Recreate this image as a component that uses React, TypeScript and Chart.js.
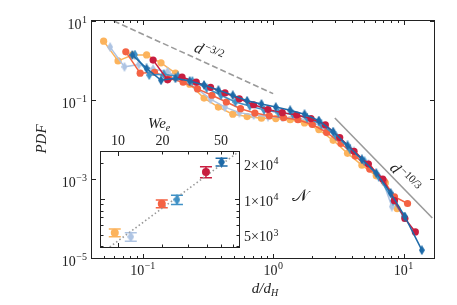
import { useEffect, useRef } from "react";
import { Chart, registerables } from "chart.js";
Chart.register(...registerables);

const SERIF = "'Liberation Serif','DejaVu Serif',serif";

// ---- main plot: PDF of d/d_H for six We_e cases ----
const orangeX = [0.0501, 0.0646, 0.0832, 0.107, 0.138, 0.178, 0.229, 0.295, 0.38, 0.49, 0.631, 0.813, 1.047, 1.349, 1.738, 2.239, 2.884, 3.715, 4.786, 6.166, 7.244, 8.913];
const orangeY = [3.09, 0.977, 1.38, 1.38, 0.871, 0.479, 0.251, 0.112, 0.0661, 0.0437, 0.038, 0.0347, 0.0339, 0.0316, 0.0263, 0.0178, 0.00955, 0.00447, 0.00224, 0.0012, 0.000794, 0.000178];

const lightBlueX = [0.0562, 0.0724, 0.0933, 0.12, 0.155, 0.2, 0.257, 0.331, 0.427, 0.55, 0.708, 0.912, 1.175, 1.514, 1.95, 2.512, 3.236, 4.169, 5.37, 6.918, 8.128];
const lightBlueY = [2.188, 0.692, 0.794, 0.603, 0.525, 0.316, 0.2, 0.105, 0.0661, 0.0479, 0.0417, 0.038, 0.0363, 0.0363, 0.0282, 0.0191, 0.01, 0.00501, 0.0024, 0.000891, 0.0002];

const redOrangeX = [0.0741, 0.0955, 0.123, 0.158, 0.204, 0.263, 0.339, 0.437, 0.562, 0.724, 0.933, 1.202, 1.549, 1.995, 2.57, 3.311, 4.266, 5.495, 7.079, 8.511, 10.72];
const redOrangeY = [1.66, 0.479, 0.501, 0.355, 0.282, 0.191, 0.132, 0.0891, 0.0603, 0.0468, 0.0398, 0.0355, 0.0316, 0.024, 0.0151, 0.00794, 0.0038, 0.00178, 0.000891, 0.000355, 0.00024];

const midBlueX = [0.0871, 0.112, 0.145, 0.186, 0.24, 0.309, 0.398, 0.513, 0.661, 0.851, 1.096, 1.413, 1.82, 2.344, 3.02, 3.89, 5.012, 6.457, 8.318, 10.0];
const midBlueY = [1.413, 0.427, 0.447, 0.398, 0.302, 0.2, 0.132, 0.0891, 0.0708, 0.0562, 0.0479, 0.0437, 0.0355, 0.024, 0.0126, 0.00562, 0.00282, 0.00112, 0.000282, 0.000112];

const crimsonX = [0.12, 0.155, 0.2, 0.257, 0.331, 0.427, 0.55, 0.708, 0.912, 1.175, 1.514, 1.95, 2.512, 3.236, 4.169, 5.37, 6.918, 8.511, 10.23, 12.3];
const crimsonY = [1.023, 0.324, 0.38, 0.282, 0.209, 0.151, 0.107, 0.0759, 0.0575, 0.0479, 0.0417, 0.0339, 0.0234, 0.0112, 0.00501, 0.0024, 0.001, 0.000282, 0.0001, 0.0000457];

const darkBlueX = [0.0832, 0.107, 0.138, 0.178, 0.229, 0.295, 0.38, 0.49, 0.631, 0.813, 1.047, 1.349, 1.738, 2.239, 2.884, 3.715, 4.786, 6.166, 7.943, 10.23, 13.8];
const darkBlueY = [1.38, 0.631, 0.316, 0.355, 0.302, 0.24, 0.178, 0.132, 0.0955, 0.0794, 0.0661, 0.055, 0.0437, 0.0302, 0.0158, 0.00708, 0.00316, 0.00141, 0.000447, 0.000112, 0.0000158];

// reference power laws
const slope32X = [0.06, 1.0];
const slope32Y = [10, 0.145];
const slope103X = [2.97, 16.6];
const slope103Y = [0.035, 0.000103];

// axis ticks
const xMajorTicks = [0.1, 1, 10];
const xMajorExp = ["\u22121", "0", "1"];
const xMinorTicks = [0.05, 0.06, 0.07, 0.08, 0.09, 0.2, 0.3, 0.4, 0.5, 0.6, 0.7, 0.8, 0.9, 2, 3, 4, 5, 6, 7, 8, 9];
const yMajorTicks = [10, 0.1, 0.001, 0.00001];
const yMajorExp = ["1", "\u22121", "\u22123", "\u22125"];

// ---- inset: number of drops vs We_e ----
const weE = [9.5, 12.2, 19.8, 25.1, 39.5, 50.4];
const nDrops = [5200, 4810, 9130, 9870, 16900, 20500];
const nErr = [380, 390, 690, 880, 1790, 1560];
const fitWe = [8.78, 64.1];
const fitN = [3945, 24400];
const insetXTicks = [10, 20, 30, 40, 50, 60];
const insetXLabels = [10, 20, 50];
const insetYTicks = [4000, 5000, 6000, 7000, 8000, 9000, 10000, 20000];
const insetYLabelVals = [20000, 10000, 5000];
const insetYLabelBase = ["2\u00d710", "1\u00d710", "5\u00d710"];
const insetYLabelExp = ["4", "4", "3"];

const seriesColors = ["#FCB35C", "#AEC4E3", "#F46243", "#3F91C6", "#C81D3F", "#1D6AA8"];
const seriesMarkers = ["circle", "diamond", "circle", "diamond", "circle", "diamond"];
const seriesX = [orangeX, lightBlueX, redOrangeX, midBlueX, crimsonX, darkBlueX];
const seriesY = [orangeY, lightBlueY, redOrangeY, midBlueY, crimsonY, darkBlueY];

function thinDiamond(color: string, w: number, h: number) {
  const c = document.createElement("canvas");
  c.width = w;
  c.height = h;
  const g = c.getContext("2d")!;
  g.fillStyle = color;
  g.beginPath();
  g.moveTo(w / 2, 0);
  g.lineTo(w, h / 2);
  g.lineTo(w / 2, h);
  g.lineTo(0, h / 2);
  g.closePath();
  g.fill();
  return c;
}

function drawPow(ctx: CanvasRenderingContext2D, base: string, exp: string, x: number, yMid: number, align: string, bs = 14, es = 10) {
  ctx.font = `${bs}px ${SERIF}`;
  const wb = ctx.measureText(base).width;
  ctx.font = `${es}px ${SERIF}`;
  const we = ctx.measureText(exp).width;
  const total = wb + we + 0.5;
  const x0 = align === "center" ? x - total / 2 : align === "right" ? x - total : x;
  ctx.textAlign = "left";
  ctx.textBaseline = "alphabetic";
  const bl = yMid + bs * 0.33;
  ctx.font = `${bs}px ${SERIF}`;
  ctx.fillText(base, x0, bl);
  ctx.font = `${es}px ${SERIF}`;
  ctx.fillText(exp, x0 + wb + 0.5, bl - bs * 0.42);
}

function drawSlopeLabel(ctx: CanvasRenderingContext2D, x: number, y: number, angle: number, exp: string) {
  ctx.save();
  ctx.translate(x, y);
  ctx.rotate(angle);
  ctx.font = `italic 16px ${SERIF}`;
  const wb = ctx.measureText("d").width;
  ctx.font = `11px ${SERIF}`;
  const we = ctx.measureText(exp).width;
  const total = wb + we + 1;
  ctx.fillStyle = "#222";
  ctx.textAlign = "left";
  ctx.textBaseline = "alphabetic";
  ctx.font = `italic 16px ${SERIF}`;
  ctx.fillText("d", -total / 2, 5);
  ctx.font = `11px ${SERIF}`;
  ctx.fillText(exp, -total / 2 + wb + 1, -1);
  ctx.restore();
}

const mainAxes = {
  id: "mainAxes",
  afterDraw(chart: any) {
    const { ctx, chartArea: a, scales } = chart;
    const xs = scales.x;
    const ys = scales.y;
    ctx.save();
    ctx.strokeStyle = "#222";
    ctx.fillStyle = "#222";
    ctx.lineWidth = 1;
    ctx.strokeRect(a.left - 0.5, a.top - 0.5, a.right - a.left + 1, a.bottom - a.top + 1);
    ctx.beginPath();
    xMajorTicks.forEach((v) => {
      const p = Math.round(xs.getPixelForValue(v)) + 0.5;
      ctx.moveTo(p, a.bottom);
      ctx.lineTo(p, a.bottom - 4);
      ctx.moveTo(p, a.top);
      ctx.lineTo(p, a.top + 4);
    });
    xMinorTicks.forEach((v) => {
      const p = Math.round(xs.getPixelForValue(v)) + 0.5;
      ctx.moveTo(p, a.bottom);
      ctx.lineTo(p, a.bottom - 2);
      ctx.moveTo(p, a.top);
      ctx.lineTo(p, a.top + 2);
    });
    yMajorTicks.forEach((v) => {
      const p = Math.round(ys.getPixelForValue(v)) + 0.5;
      ctx.moveTo(a.left, p);
      ctx.lineTo(a.left + 4, p);
      ctx.moveTo(a.right, p);
      ctx.lineTo(a.right - 4, p);
    });
    ctx.stroke();
    xMajorTicks.forEach((v, i) => {
      drawPow(ctx, "10", xMajorExp[i], xs.getPixelForValue(v), a.bottom + 12, "center");
    });
    yMajorTicks.forEach((v, i) => {
      drawPow(ctx, "10", yMajorExp[i], a.left - 5, ys.getPixelForValue(v) + 3, "right");
    });
    // axis titles
    ctx.save();
    ctx.translate(42, 139);
    ctx.rotate(-Math.PI / 2);
    ctx.font = `italic 15px ${SERIF}`;
    ctx.textAlign = "center";
    ctx.textBaseline = "middle";
    ctx.fillText("PDF", 0, 0);
    ctx.restore();
    ctx.font = `italic 15px ${SERIF}`;
    const w1 = ctx.measureText("d/d").width;
    ctx.font = `italic 10px ${SERIF}`;
    const w2 = ctx.measureText("H").width;
    const tx = (a.left + a.right) / 2 + 2 - (w1 + w2) / 2;
    ctx.textAlign = "left";
    ctx.textBaseline = "alphabetic";
    ctx.font = `italic 15px ${SERIF}`;
    ctx.fillText("d/d", tx, a.bottom + 35);
    ctx.font = `italic 10px ${SERIF}`;
    ctx.fillText("H", tx + w1, a.bottom + 38);
    // slope labels
    const a1 = Math.atan2(
      ys.getPixelForValue(slope32Y[1]) - ys.getPixelForValue(slope32Y[0]),
      xs.getPixelForValue(slope32X[1]) - xs.getPixelForValue(slope32X[0])
    );
    drawSlopeLabel(ctx, xs.getPixelForValue(0.32), ys.getPixelForValue(1.6), a1, "\u22123/2");
    const a2 = Math.atan2(
      ys.getPixelForValue(slope103Y[1]) - ys.getPixelForValue(slope103Y[0]),
      xs.getPixelForValue(slope103X[1]) - xs.getPixelForValue(slope103X[0])
    );
    drawSlopeLabel(ctx, xs.getPixelForValue(10.2), ys.getPixelForValue(0.00108), a2, "\u221210/3");
    ctx.restore();
  },
};

const insetAxes = {
  id: "insetAxes",
  beforeDraw(chart: any) {
    const { ctx, chartArea: a } = chart;
    ctx.save();
    ctx.fillStyle = "#fff";
    ctx.fillRect(a.left, a.top, a.right - a.left, a.bottom - a.top);
    ctx.restore();
  },
  beforeDatasetsDraw(chart: any) {
    const { ctx, scales } = chart;
    const xs = scales.x;
    const ys = scales.y;
    ctx.save();
    ctx.lineWidth = 1.5;
    weE.forEach((w, i) => {
      const px = xs.getPixelForValue(w);
      const pt = ys.getPixelForValue(nDrops[i] + nErr[i]);
      const pb = ys.getPixelForValue(nDrops[i] - nErr[i]);
      ctx.strokeStyle = seriesColors[i];
      ctx.beginPath();
      ctx.moveTo(px, pt);
      ctx.lineTo(px, pb);
      ctx.moveTo(px - 6, pt);
      ctx.lineTo(px + 6, pt);
      ctx.moveTo(px - 6, pb);
      ctx.lineTo(px + 6, pb);
      ctx.stroke();
    });
    ctx.restore();
  },
  afterDraw(chart: any) {
    const { ctx, chartArea: a, scales } = chart;
    const xs = scales.x;
    const ys = scales.y;
    ctx.save();
    ctx.strokeStyle = "#222";
    ctx.fillStyle = "#222";
    ctx.lineWidth = 1;
    ctx.strokeRect(a.left - 0.5, a.top - 0.5, a.right - a.left + 1, a.bottom - a.top + 1);
    ctx.beginPath();
    insetXTicks.forEach((v) => {
      const p = Math.round(xs.getPixelForValue(v)) + 0.5;
      const len = v === 10 ? 4 : 2.5;
      ctx.moveTo(p, a.bottom);
      ctx.lineTo(p, a.bottom - len);
      ctx.moveTo(p, a.top);
      ctx.lineTo(p, a.top + len);
    });
    insetYTicks.forEach((v) => {
      const p = Math.round(ys.getPixelForValue(v)) + 0.5;
      const len = v === 10000 ? 4 : 2.5;
      ctx.moveTo(a.left, p);
      ctx.lineTo(a.left + len, p);
      ctx.moveTo(a.right, p);
      ctx.lineTo(a.right - len, p);
    });
    ctx.stroke();
    ctx.font = `14px ${SERIF}`;
    ctx.textAlign = "center";
    ctx.textBaseline = "alphabetic";
    insetXLabels.forEach((v) => {
      ctx.fillText(String(v), xs.getPixelForValue(v), a.top - 7);
    });
    insetYLabelVals.forEach((v, i) => {
      drawPow(ctx, insetYLabelBase[i], insetYLabelExp[i], a.right + 5, ys.getPixelForValue(v) + 2, "left");
    });
    // We_e title
    ctx.font = `italic 15px ${SERIF}`;
    const w1 = ctx.measureText("We").width;
    ctx.font = `italic 10px ${SERIF}`;
    const w2 = ctx.measureText("e").width;
    const cx = xs.getPixelForValue(19) - (w1 + w2) / 2;
    ctx.textAlign = "left";
    ctx.font = `italic 15px ${SERIF}`;
    ctx.fillText("We", cx, a.top - 24);
    ctx.font = `italic 10px ${SERIF}`;
    ctx.fillText("e", cx + w1, a.top - 21);
    // N label (calligraphic)
    ctx.font = `17px 'DejaVu Sans', 'Noto Sans', ${SERIF}`;
    ctx.textAlign = "center";
    ctx.textBaseline = "middle";
    ctx.fillText("\u{1D4A9}", a.right + 61, ys.getPixelForValue(10000) - 2);
    ctx.restore();
  },
};

export default function App() {
  const mainRef = useRef<HTMLCanvasElement>(null);
  const insetRef = useRef<HTMLCanvasElement>(null);

  useEffect(() => {
    const datasets: any[] = seriesX.map((xs, i) => {
      const color = seriesColors[i];
      return {
        data: xs.map((x, j) => ({ x, y: seriesY[i][j] })),
        borderColor: color,
        backgroundColor: color,
        borderWidth: 1.5,
        pointStyle: seriesMarkers[i] === "circle" ? "circle" : thinDiamond(color, 6, 10),
        pointRadius: 3.6,
        pointBackgroundColor: color,
        pointBorderWidth: 0,
        tension: 0,
        order: 10 - i,
      };
    });
    datasets.push({
      data: slope32X.map((x, j) => ({ x, y: slope32Y[j] })),
      borderColor: "#9a9a9a",
      borderDash: [6, 3],
      borderWidth: 1.6,
      pointRadius: 0,
      order: 20,
    });
    datasets.push({
      data: slope103X.map((x, j) => ({ x, y: slope103Y[j] })),
      borderColor: "#9a9a9a",
      borderWidth: 1.6,
      pointRadius: 0,
      order: 20,
    });

    const main = new Chart(mainRef.current!, {
      type: "line",
      data: { datasets },
      options: {
        animation: false,
        responsive: true,
        maintainAspectRatio: false,
        layout: { padding: { left: 92, top: 21, right: 23, bottom: 47 } },
        plugins: { legend: { display: false }, tooltip: { enabled: false } },
        scales: {
          x: { type: "logarithmic", min: 0.0408, max: 17.1, display: false },
          y: { type: "logarithmic", min: 0.00001, max: 10, display: false },
        },
      },
      plugins: [mainAxes],
    } as any);

    const insetSets: any[] = [
      {
        data: fitWe.map((x, j) => ({ x, y: fitN[j] })),
        borderColor: "#999",
        borderDash: [1.5, 2.5],
        borderWidth: 1.6,
        pointRadius: 0,
        order: 20,
      },
    ];
    weE.forEach((w, i) => {
      const color = seriesColors[i];
      insetSets.push({
        data: [{ x: w, y: nDrops[i] }],
        showLine: false,
        borderColor: color,
        backgroundColor: color,
        pointStyle: seriesMarkers[i] === "circle" ? "circle" : thinDiamond(color, 7, 11),
        pointRadius: 4,
        pointBackgroundColor: color,
        pointBorderWidth: 0,
        order: 1,
      });
    });

    const inset = new Chart(insetRef.current!, {
      type: "line",
      data: { datasets: insetSets },
      options: {
        animation: false,
        responsive: true,
        maintainAspectRatio: false,
        layout: { padding: { left: 41, top: 42, right: 101, bottom: 13 } },
        plugins: { legend: { display: false }, tooltip: { enabled: false } },
        scales: {
          x: { type: "logarithmic", min: 7.66, max: 66.2, display: false },
          y: { type: "logarithmic", min: 3945, max: 24900, display: false },
        },
      },
      plugins: [insetAxes],
    } as any);

    return () => {
      main.destroy();
      inset.destroy();
    };
  }, []);

  return (
    <div style={{ position: "absolute", left: 0, top: 0, width: 457, height: 305, background: "#fff" }}>
      <div style={{ position: "absolute", left: 0, top: 0, width: 457, height: 305 }}>
        <canvas ref={mainRef} />
      </div>
      <div style={{ position: "absolute", left: 60, top: 110, width: 280, height: 150 }}>
        <canvas ref={insetRef} />
      </div>
    </div>
  );
}
